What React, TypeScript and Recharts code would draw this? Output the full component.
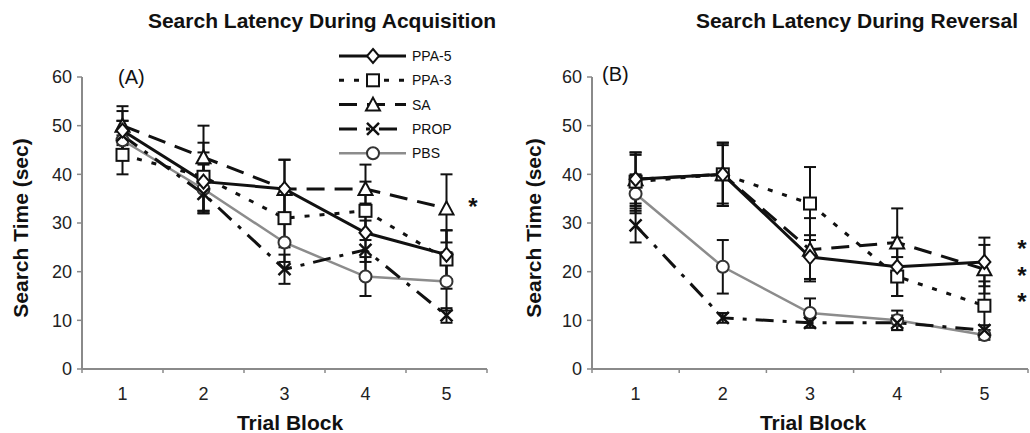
import React from "react";
import { LineChart, Line, XAxis, YAxis, ErrorBar } from "recharts";

const TRIALS = [1, 2, 3, 4, 5];
const X_TICKS = [0.5, 1, 1.5, 2, 2.5, 3, 3.5, 4, 4.5, 5, 5.5];
const Y_TICKS = [0, 10, 20, 30, 40, 50, 60];

// acquisition (A)
const ACQ_PPA5 = [49, 38.5, 37, 28, 23.5];
const ACQ_PPA5_ERR = [4, 6, 6, 6, 5];
const ACQ_PPA3 = [44, 39.5, 31, 32.5, 22.5];
const ACQ_PPA3_ERR = [4, 7, 6, 6, 6];
const ACQ_SA = [50, 43.5, 37, 37, 33];
const ACQ_SA_ERR = [4, 6.5, 6, 5, 7];
const ACQ_PROP = [48, 36, 20.5, 24.5, 11];
const ACQ_PROP_ERR = [3, 4, 3, 6, 1.5];
const ACQ_PBS = [47, 37, 26, 19, 18];
const ACQ_PBS_ERR = [4, 5, 4, 4, 6];

// reversal (B)
const REV_PPA5 = [39, 40, 23, 21, 22];
const REV_PPA5_ERR = [5, 6.5, 4.5, 6, 5];
const REV_PPA3 = [38.5, 40, 34, 19, 13];
const REV_PPA3_ERR = [6, 6, 7.5, 4, 5];
const REV_SA = [39, 40, 24.5, 26, 20.5];
const REV_SA_ERR = [5.5, 6.5, 6.5, 7, 5];
const REV_PROP = [29.5, 10.5, 9.5, 9.5, 8];
const REV_PROP_ERR = [3.5, 1, 1, 1.5, 1];
const REV_PBS = [36, 21, 11.5, 10, 7];
const REV_PBS_ERR = [4, 5.5, 3, 2, 1];

const FONT = "'Liberation Sans', Arial, sans-serif";
const AXIS_GREY = "#8a8a8a";

type Shape = "diamond" | "square" | "triangle" | "x" | "circle";
const SERIES: { key: string; name: string; color: string; width: number; dash?: string; shape: Shape }[] = [
  { key: "pbs", name: "PBS", color: "#8c8c8c", width: 2.5, shape: "circle" },
  { key: "prop", name: "PROP", color: "#111", width: 3, dash: "18 9 4 9", shape: "x" },
  { key: "sa", name: "SA", color: "#111", width: 3, dash: "18 10", shape: "triangle" },
  { key: "ppa3", name: "PPA-3", color: "#111", width: 3, dash: "5 10", shape: "square" },
  { key: "ppa5", name: "PPA-5", color: "#111", width: 3, shape: "diamond" },
];
const LEGEND_ORDER = ["ppa5", "ppa3", "sa", "prop", "pbs"];

function buildRows(v: Record<string, number[]>) {
  return TRIALS.map((t, i) => {
    const row: Record<string, number> = { trial: t };
    Object.keys(v).forEach((k) => { row[k] = v[k][i]; });
    return row;
  });
}

const acqRows = buildRows({
  ppa5: ACQ_PPA5, ppa5Err: ACQ_PPA5_ERR, ppa3: ACQ_PPA3, ppa3Err: ACQ_PPA3_ERR,
  sa: ACQ_SA, saErr: ACQ_SA_ERR, prop: ACQ_PROP, propErr: ACQ_PROP_ERR, pbs: ACQ_PBS, pbsErr: ACQ_PBS_ERR,
});
const revRows = buildRows({
  ppa5: REV_PPA5, ppa5Err: REV_PPA5_ERR, ppa3: REV_PPA3, ppa3Err: REV_PPA3_ERR,
  sa: REV_SA, saErr: REV_SA_ERR, prop: REV_PROP, propErr: REV_PROP_ERR, pbs: REV_PBS, pbsErr: REV_PBS_ERR,
});

function Marker({ shape, cx, cy }: { shape: Shape; cx: number; cy: number }) {
  const st = { stroke: "#111", strokeWidth: 2, fill: "#fff" };
  if (shape === "diamond") return <path d={`M${cx},${cy - 7}L${cx + 6},${cy}L${cx},${cy + 7}L${cx - 6},${cy}Z`} {...st} />;
  if (shape === "square") return <rect x={cx - 6} y={cy - 6} width={12} height={12} {...st} />;
  if (shape === "triangle") return <path d={`M${cx},${cy - 7}L${cx + 7},${cy + 6}L${cx - 7},${cy + 6}Z`} {...st} />;
  if (shape === "x") return <path d={`M${cx - 6},${cy - 6}L${cx + 6},${cy + 6}M${cx + 6},${cy - 6}L${cx - 6},${cy + 6}`} stroke="#111" strokeWidth={2.5} fill="none" />;
  return <circle cx={cx} cy={cy} r={6} stroke="#333" strokeWidth={2} fill="#fff" />;
}

// ticks at band edges, labels at band centres (Excel style)
function XTick(props: any) {
  const { x, y, payload } = props;
  const v = payload.value;
  if (Number.isInteger(v)) {
    return <text x={x} y={y + 31} textAnchor="middle" fontSize={18} fontFamily={FONT} fill="#222">{v}</text>;
  }
  return <line x1={x} x2={x} y1={y} y2={y + 4} stroke={AXIS_GREY} strokeWidth={1.5} />;
}

function Panel({ rows, width, margin }: { rows: Record<string, number>[]; width: number; margin: any }) {
  return (
    <LineChart width={width} height={433} data={rows} margin={margin}>
      <XAxis
        dataKey="trial" type="number" domain={[0.5, 5.5]} ticks={X_TICKS} interval={0}
        tickSize={0} tickMargin={0} tickLine={false} height={40}
        axisLine={{ stroke: AXIS_GREY, strokeWidth: 2 }} tick={<XTick />}
      />
      <YAxis
        domain={[0, 60]} ticks={Y_TICKS} allowDataOverflow width={40} tickSize={5} tickMargin={5}
        axisLine={{ stroke: AXIS_GREY, strokeWidth: 2 }} tickLine={{ stroke: AXIS_GREY, strokeWidth: 1.5 }}
        tick={{ fontSize: 18, fontFamily: FONT, fill: "#222" }}
      />
      {SERIES.map((s) => (
        <Line
          key={s.key} type="linear" dataKey={s.key} name={s.name} stroke={s.color} strokeWidth={s.width}
          strokeDasharray={s.dash} isAnimationActive={false}
          dot={(p: any) => <Marker key={`${s.key}-${p.index}`} shape={s.shape} cx={p.cx} cy={p.cy} />}
        >
          <ErrorBar dataKey={`${s.key}Err`} width={6} strokeWidth={2} stroke="#111" direction="y" isAnimationActive={false} />
        </Line>
      ))}
    </LineChart>
  );
}

const txt = { fontFamily: FONT, fill: "#111" };

export default function App() {
  return (
    <div style={{ position: "absolute", left: 0, top: 0, width: 1030, height: 433, background: "#fff" }}>
      <div style={{ position: "absolute", left: 0, top: 0 }}>
        <Panel rows={acqRows} width={515} margin={{ top: 77, right: 28, bottom: 24, left: 42 }} />
      </div>
      <div style={{ position: "absolute", left: 515, top: 0 }}>
        <Panel rows={revRows} width={515} margin={{ top: 77, right: 2, bottom: 24, left: 37 }} />
      </div>
      <svg width={1030} height={433} style={{ position: "absolute", left: 0, top: 0, pointerEvents: "none" }}>
        <text x={322} y={28} textAnchor="middle" fontSize={21} fontWeight="bold" {...txt}>Search Latency During Acquisition</text>
        <text x={857} y={28} textAnchor="middle" fontSize={21} fontWeight="bold" {...txt}>Search Latency During Reversal</text>
        <text transform="translate(28,228) rotate(-90)" textAnchor="middle" fontSize={21} fontWeight="bold" {...txt}>Search Time (sec)</text>
        <text transform="translate(541,228) rotate(-90)" textAnchor="middle" fontSize={21} fontWeight="bold" {...txt}>Search Time (sec)</text>
        <text x={290} y={430} textAnchor="middle" fontSize={21} fontWeight="bold" {...txt}>Trial Block</text>
        <text x={813} y={430} textAnchor="middle" fontSize={21} fontWeight="bold" {...txt}>Trial Block</text>
        <text x={118} y={84} fontSize={20} {...txt}>(A)</text>
        <text x={602} y={81} fontSize={20} {...txt}>(B)</text>
        <text x={473} y={215} textAnchor="middle" fontSize={24} fontWeight="bold" {...txt}>*</text>
        <text x={1022} y={257} textAnchor="middle" fontSize={24} fontWeight="bold" {...txt}>*</text>
        <text x={1022} y={284} textAnchor="middle" fontSize={24} fontWeight="bold" {...txt}>*</text>
        <text x={1022} y={310} textAnchor="middle" fontSize={24} fontWeight="bold" {...txt}>*</text>
        {LEGEND_ORDER.map((k, i) => {
          const s = SERIES.find((d) => d.key === k)!;
          const y = 56 + i * 24.3;
          return (
            <g key={k}>
              <line x1={339} x2={406} y1={y} y2={y} stroke={s.color} strokeWidth={s.width} strokeDasharray={s.dash} />
              <Marker shape={s.shape} cx={373} cy={y} />
              <text x={412} y={y + 5} fontSize={14} {...txt}>{s.name}</text>
            </g>
          );
        })}
      </svg>
    </div>
  );
}
